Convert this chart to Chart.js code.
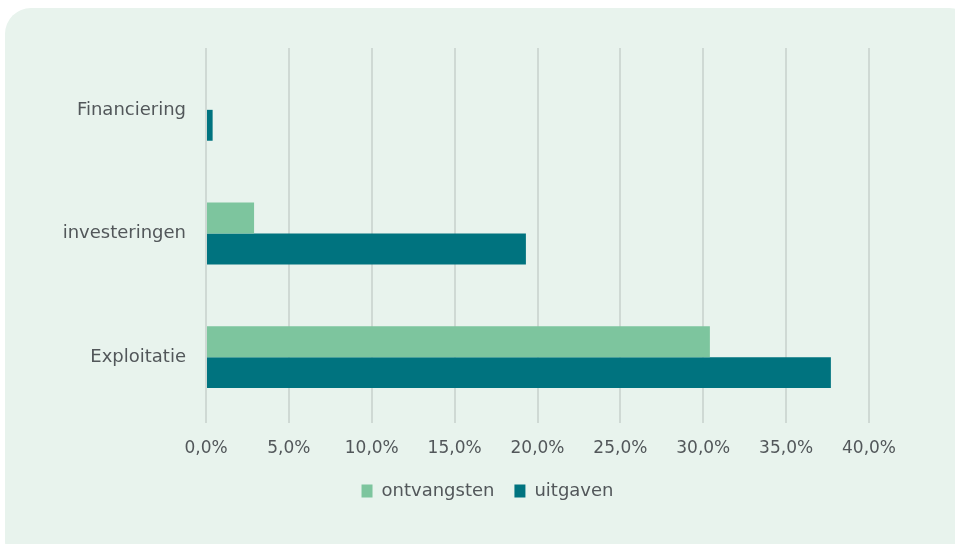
<!DOCTYPE html>
<html lang="nl">
<head>
  <meta charset="UTF-8" />
  <title>Ontvangsten en uitgaven</title>
  <script src="https://cdn.jsdelivr.net/npm/chart.js"></script>
  <style>
    html, body {
      margin: 0;
      padding: 0;
      background: #ffffff;
      width: 955px;
      height: 544px;
      overflow: hidden;
    }
    .card {
      position: absolute;
      left: 5px;
      top: 8px;
      width: 970px;
      height: 560px;
      background: #e8f3ed;
      border-radius: 26px;
    }
    .chart-box {
      position: absolute;
      left: 0;
      top: 0;
      width: 955px;
      height: 544px;
    }
  </style>
</head>
<body>
  <div class="card"></div>
  <div class="chart-box">
    <canvas id="chart"></canvas>
  </div>

  <script>
    const categories = ['Financiering', 'investeringen', 'Exploitatie'];
    const ontvangsten = [0, 2.9, 30.4];
    const uitgaven = [0.4, 19.3, 37.7];
    const xTicks = [0, 5, 10, 15, 20, 25, 30, 35, 40];

    const textColor = '#52575a';
    const fontFamily = '"DejaVu Sans", sans-serif';

    // axis runs a little past 40% so the legend sits where it does in the original
    const xMax = 40 * 709 / 663;

    const ctx = document.getElementById('chart').getContext('2d');
    new Chart(ctx, {
      type: 'bar',
      data: {
        labels: categories,
        datasets: [
          {
            label: 'ontvangsten',
            data: ontvangsten,
            backgroundColor: '#7dc59e',
            categoryPercentage: 0.5,
            barPercentage: 1.0
          },
          {
            label: 'uitgaven',
            data: uitgaven,
            backgroundColor: '#00737f',
            categoryPercentage: 0.5,
            barPercentage: 1.0
          }
        ]
      },
      options: {
        indexAxis: 'y',
        responsive: true,
        maintainAspectRatio: false,
        animation: false,
        layout: {
          padding: { left: 60, right: 40, top: 48, bottom: 34 }
        },
        plugins: {
          legend: {
            position: 'bottom',
            labels: {
              color: textColor,
              font: { family: fontFamily, size: 18 },
              boxWidth: 11,
              boxHeight: 13,
              padding: 20
            }
          },
          tooltip: { enabled: false }
        },
        scales: {
          x: {
            min: 0,
            max: xMax,
            afterBuildTicks: (scale) => {
              scale.ticks = xTicks.map(v => ({ value: v }));
            },
            afterFit: (scale) => { scale.height = 43; },
            grid: {
              color: '#cfd9d4',
              lineWidth: 2,
              tickLength: 4
            },
            border: { display: false },
            ticks: {
              color: textColor,
              font: { family: fontFamily, size: 17 },
              padding: 15,
              callback: (v) => v.toFixed(1).replace('.', ',') + '%'
            }
          },
          y: {
            afterFit: (scale) => { scale.width = 146; },
            grid: { display: false, drawTicks: false },
            border: { display: false },
            ticks: {
              color: textColor,
              font: { family: fontFamily, size: 18 },
              padding: 20
            }
          }
        }
      }
    });
  </script>
</body>
</html>
